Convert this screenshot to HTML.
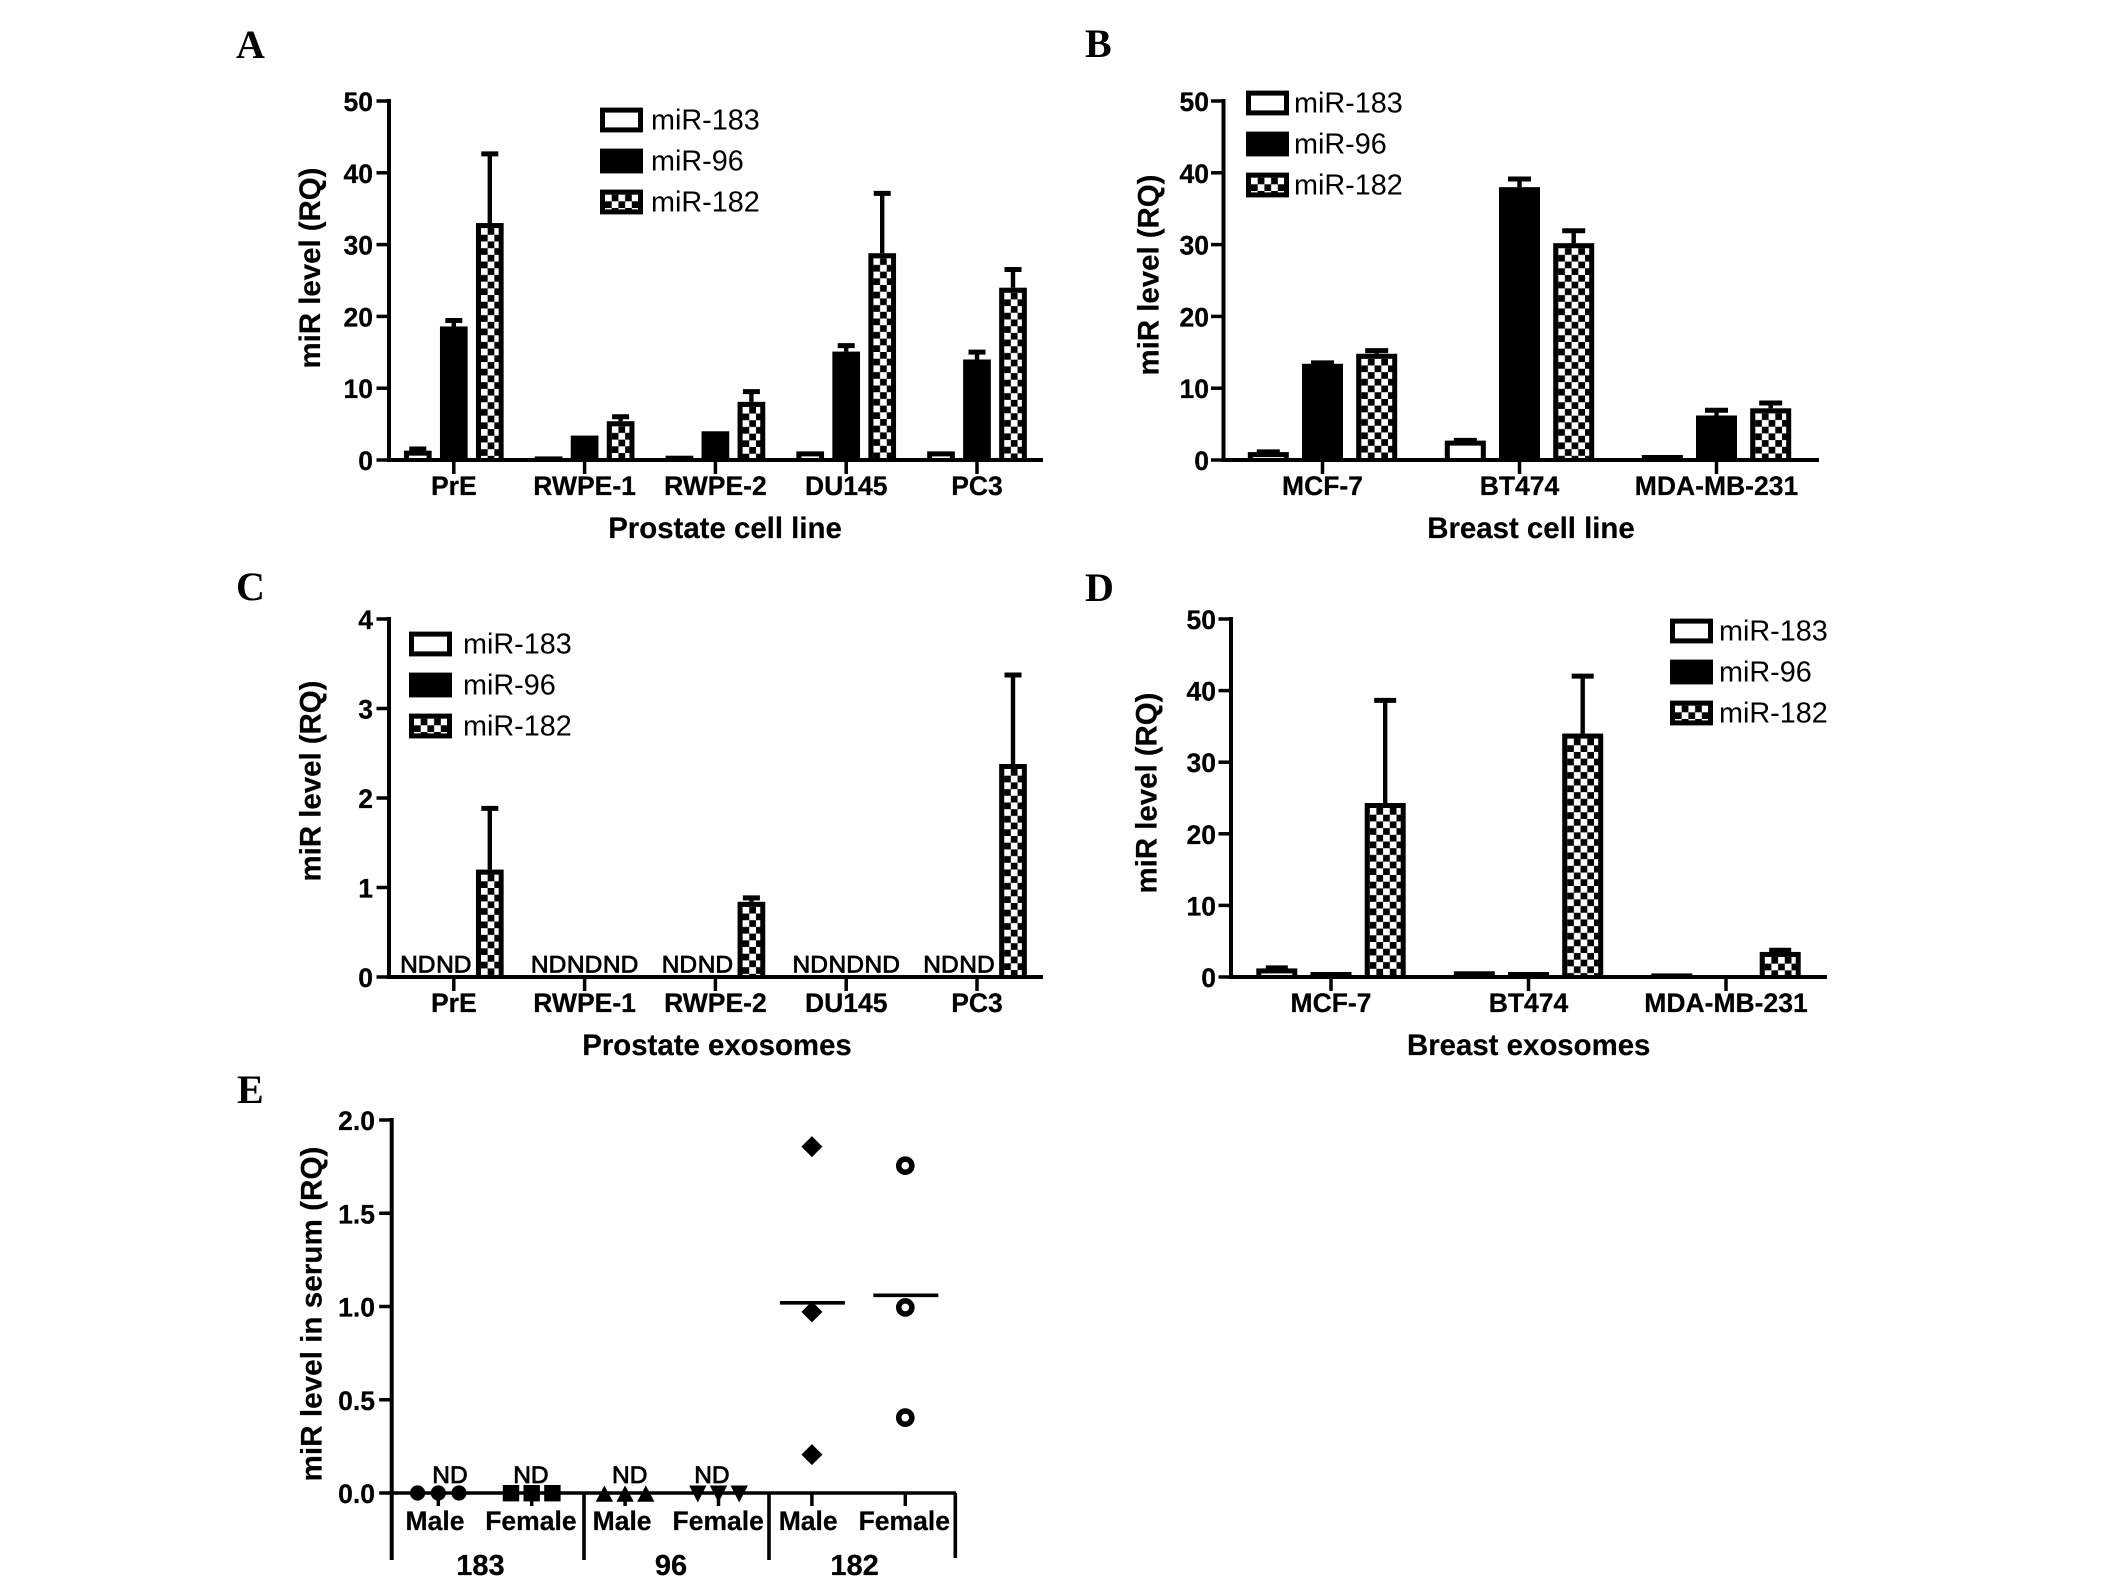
<!DOCTYPE html>
<html lang="en">
<head>
<meta charset="utf-8">
<title>miR levels in cell lines, exosomes and serum</title>
<style>
html,body{margin:0;padding:0;background:#fff;}
svg{display:block;}
text{font-family:"Liberation Sans",Arial,sans-serif;fill:#000;}
.panel-letter{font-family:"Liberation Serif","Times New Roman",serif;font-weight:bold;font-size:40px;}
.tick{font-weight:bold;font-size:26.5px;stroke:#000;stroke-width:.25px;}
.group{font-weight:bold;font-size:29px;stroke:#000;stroke-width:.25px;}
.title{font-weight:bold;font-size:29.4px;stroke:#000;stroke-width:.2px;}
.title-long{font-weight:bold;font-size:29.7px;stroke:#000;stroke-width:.2px;}
.legend{font-size:28.8px;}
.nd{font-size:24.5px;stroke:#000;stroke-width:.8px;}
</style>
</head>
<body>
<svg id="figure" xmlns="http://www.w3.org/2000/svg" width="2126" height="1586" viewBox="0 0 2126 1586">
  <defs>
    <pattern id="checks" patternUnits="userSpaceOnUse" width="13.4" height="13.4">
      <rect width="13.4" height="13.4" fill="#000"/>
      <rect x="0" y="0" width="6.7" height="6.7" fill="#fff"/>
      <rect x="6.7" y="6.7" width="6.7" height="6.7" fill="#fff"/>
    </pattern>
  </defs>
  <rect width="2126" height="1586" fill="#fff"/>
  <g id="panel-a">
    <text class="panel-letter" x="236" y="58">A</text>
  </g>
  <g id="panel-b">
    <text class="panel-letter" x="1085" y="57">B</text>
  </g>
  <g id="panel-c">
    <text class="panel-letter" x="236" y="600">C</text>
  </g>
  <g id="panel-d">
    <text class="panel-letter" x="1085" y="601">D</text>
  </g>
  <g id="panel-e">
    <text class="panel-letter" x="237" y="1103">E</text>
  </g>
</svg>
<script>
// ---------- Panel A: prostate cell lines ----------
const aCategories = ['PrE', 'RWPE-1', 'RWPE-2', 'DU145', 'PC3'];
const aMir183 = [1.3, 0.5, 0.6, 1.2, 1.2];
const aMir183Err = [0.3, 0, 0, 0, 0];
const aMir96 = [18.6, 3.4, 4.0, 15.1, 14.0];
const aMir96Err = [0.9, 0, 0, 0.9, 1.1];
const aMir182 = [33.0, 5.4, 8.1, 28.8, 24.0];
const aMir182Err = [9.7, 0.7, 1.5, 8.4, 2.6];
const aTicks = [0, 10, 20, 30, 40, 50];

// ---------- Panel B: breast cell lines ----------
const bCategories = ['MCF-7', 'BT474', 'MDA-MB-231'];
const bMir183 = [1.1, 2.7, 0.7];
const bMir183Err = [0.1, 0.1, 0];
const bMir96 = [13.4, 38.0, 6.2];
const bMir96Err = [0.2, 1.2, 0.8];
const bMir182 = [14.8, 30.2, 7.2];
const bMir182Err = [0.5, 1.8, 0.8];
const bTicks = [0, 10, 20, 30, 40, 50];

// ---------- Panel C: prostate exosomes (null = not detected) ----------
const cCategories = ['PrE', 'RWPE-1', 'RWPE-2', 'DU145', 'PC3'];
const cMir183 = [null, null, null, null, null];
const cMir183Err = [0, 0, 0, 0, 0];
const cMir96 = [null, null, null, null, null];
const cMir96Err = [0, 0, 0, 0, 0];
const cMir182 = [1.2, null, 0.84, null, 2.38];
const cMir182Err = [0.69, 0, 0.05, 0, 1.0];
const cTicks = [0, 1, 2, 3, 4];

// ---------- Panel D: breast exosomes ----------
const dCategories = ['MCF-7', 'BT474', 'MDA-MB-231'];
const dMir183 = [1.2, 0.8, 0.5];
const dMir183Err = [0.15, 0, 0];
const dMir96 = [0.7, 0.7, 0];
const dMir96Err = [0, 0, 0];
const dMir182 = [24.3, 34.0, 3.5];
const dMir182Err = [14.4, 8.1, 0.3];
const dTicks = [0, 10, 20, 30, 40, 50];

// ---------- Panel E: serum scatter ----------
const eCategories = ['Male', 'Female', 'Male', 'Female', 'Male', 'Female'];
const eGroups = ['183', '96', '182'];
const eMale183 = [0, 0, 0];
const eFemale183 = [0, 0, 0];
const eMale96 = [0, 0, 0];
const eFemale96 = [0, 0, 0];
const eMale182 = [1.857, 0.971, 0.206];
const eFemale182 = [1.755, 0.995, 0.404];
const eMeans = [null, null, null, null, 1.02, 1.06];
const eNdFlags = ['ND', 'ND', 'ND', 'ND', '', ''];
const eTicks = [0, 0.5, 1, 1.5, 2];

const legendNames = ['miR-183', 'miR-96', 'miR-182'];
const NS = 'http://www.w3.org/2000/svg';

function add(parent, tag, attrs, text) {
  const el = document.createElementNS(NS, tag);
  for (const k in attrs) el.setAttribute(k, attrs[k]);
  if (text !== undefined) el.textContent = text;
  parent.appendChild(el);
  return el;
}
function named(el, name) {
  
  
  return el;
}
function line(parent, x1, y1, x2, y2, w, name) {
  const el = add(parent, 'line', {x1: x1, y1: y1, x2: x2, y2: y2, stroke: '#000', 'stroke-width': w});
  return named(el, name);
}
function label(parent, cls, x, y, anchor, str, name, rot) {
  const attrs = {class: cls, x: x, y: y, 'text-anchor': anchor};
  if (rot) attrs.transform = 'rotate(-90 ' + x + ' ' + y + ')';
  const el = add(parent, 'text', attrs, str);
  return named(el, name);
}
function fillFor(seriesIndex) {
  return ['#fff', '#000', 'url(#checks)'][seriesIndex];
}
// Black outer box with an inset fill; the pattern is anchored to the inset's own corner.
function boxFill(parent, x, y, w, h, inset, bottomInset, series, name) {
  named(add(parent, 'rect', {x: x, y: y, width: w, height: h, fill: '#000'}), name + '-outline');
  const ih = h - inset - bottomInset;
  if (series !== 1 && ih > 0.5) {
    named(add(parent, 'rect', {
      x: 0, y: 0, width: w - 2 * inset, height: ih,
      fill: fillFor(series),
      transform: 'translate(' + (x + inset) + ' ' + (y + inset) + ')'
    }), name + '-fill');
  }
}

function drawLegend(g, cfg) {
  legendNames.forEach(function (n, i) {
    const cy = cfg.y + i * cfg.dy;
    const entry = named(add(g, 'g', {}), 'legend-entry-' + n.toLowerCase());
    boxFill(entry, cfg.x, cy - 12.4, 43, 24.8, 5, 5, i, 'legend-swatch');
    label(entry, 'legend', cfg.textX, cy + 9.5, 'start', n, 'legend-label');
  });
}

function drawYAxis(g, cfg, ticks, fmt) {
  const yScale = cfg.y;
  ticks.forEach(function (t) {
    const y = yScale(t);
    line(g, cfg.axisX - 12.5, y, cfg.axisX, y, 3.5, 'y-tick');
    label(g, 'tick', cfg.tickRight, y + 10, 'end', fmt ? fmt(t) : String(t), 'y-tick-label');
  });
  line(g, cfg.axisX, yScale(ticks[ticks.length - 1]) - 2, cfg.axisX, cfg.axisBottom, 4, 'y-axis');
}

function drawBarPanel(id, cfg, categories, seriesList, errList, ticks) {
  const g = document.getElementById(id);
  const top = ticks[ticks.length - 1];
  const y = function (v) { return cfg.y0 + (cfg.yTop - cfg.y0) * v / top; };
  const xc = function (i) { return cfg.x0 + cfg.step * i; };

  categories.forEach(function (c, i) {
    seriesList.forEach(function (vals, s) {
      const v = vals[i];
      const cx = xc(i) + (s - 1) * cfg.barStep;
      if (v === null) {
        label(g, 'nd', cx, cfg.y0 - 4.5, 'middle', 'ND', 'not-detected-label');
        return;
      }
      const bar = named(add(g, 'g', {}), 'bar-' + c.toLowerCase() + '-' + legendNames[s].toLowerCase());
      const err = errList[s][i];
      if (err > 0) {
        const ye = y(v + err) + 0.5;
        line(bar, cx, ye, cx, y(v), 4.4, 'error-bar');
        line(bar, cx - cfg.cap / 2, ye, cx + cfg.cap / 2, ye, 5, 'error-cap');
      }
      const yv = y(v);
      const h = cfg.y0 - yv;
      if (h > 0.5) {
        boxFill(bar, cx - cfg.barW / 2, yv, cfg.barW, h, 5, 2, s, 'bar');
      }
    });
    line(g, xc(i), cfg.y0, xc(i), cfg.y0 + 14, 3.5, 'x-tick');
    label(g, 'tick', xc(i), cfg.catY, 'middle', c, 'x-tick-label');
  });
  const yCfg = {y: y, axisX: cfg.axisX, axisBottom: cfg.y0 + 2, tickRight: cfg.tickRight};
  drawYAxis(g, yCfg, ticks);
  line(g, cfg.axisX, cfg.y0, cfg.axisEnd, cfg.y0, 4, 'x-axis');
  label(g, 'title', cfg.titleX, cfg.titleY, 'middle', cfg.title, 'x-axis-title');
  label(g, 'title', cfg.yTitleX, cfg.yTitleY, 'middle', 'miR level (RQ)', 'y-axis-title', true);
  drawLegend(g, cfg.legend);
}

drawBarPanel('panel-a', {
  x0: 453.8, step: 130.8, barStep: 36, barW: 27.7, cap: 17, y0: 460, yTop: 101,
  axisX: 389, axisEnd: 1043, tickRight: 373, catY: 495,
  title: 'Prostate cell line', titleX: 725, titleY: 538, yTitleX: 320, yTitleY: 268,
  legend: {x: 600, y: 120, dy: 41, textX: 651}
}, aCategories, [aMir183, aMir96, aMir182], [aMir183Err, aMir96Err, aMir182Err], aTicks);

drawBarPanel('panel-b', {
  x0: 1322.5, step: 197, barStep: 54.2, barW: 41, cap: 23, y0: 460, yTop: 101,
  axisX: 1223.5, axisEnd: 1819, tickRight: 1209, catY: 495,
  title: 'Breast cell line', titleX: 1531, titleY: 538, yTitleX: 1158.5, yTitleY: 275,
  legend: {x: 1246, y: 103, dy: 41, textX: 1294}
}, bCategories, [bMir183, bMir96, bMir182], [bMir183Err, bMir96Err, bMir182Err], bTicks);

drawBarPanel('panel-c', {
  x0: 453.8, step: 130.8, barStep: 36, barW: 27.7, cap: 17, y0: 977, yTop: 619,
  axisX: 389, axisEnd: 1043, tickRight: 373, catY: 1012,
  title: 'Prostate exosomes', titleX: 717, titleY: 1055, yTitleX: 320.5, yTitleY: 781,
  legend: {x: 409, y: 644, dy: 41, textX: 463}
}, cCategories, [cMir183, cMir96, cMir182], [cMir183Err, cMir96Err, cMir182Err], cTicks);

drawBarPanel('panel-d', {
  x0: 1331, step: 197.5, barStep: 54.2, barW: 41, cap: 22, y0: 977, yTop: 619,
  axisX: 1231, axisEnd: 1827, tickRight: 1216, catY: 1012,
  title: 'Breast exosomes', titleX: 1528.7, titleY: 1055, yTitleX: 1156.5, yTitleY: 793,
  legend: {x: 1670, y: 631, dy: 41, textX: 1719}
}, dCategories, [dMir183, dMir96, dMir182], [dMir183Err, dMir96Err, dMir182Err], dTicks);

function drawMarker(g, kind, x, y) {
  let el;
  if (kind === 'circle') {
    el = add(g, 'circle', {cx: x, cy: y, r: 7.6, fill: '#000'});
  } else if (kind === 'square') {
    el = add(g, 'rect', {x: x - 8.2, y: y - 8, width: 16.4, height: 16.4, fill: '#000'});
  } else if (kind === 'up') {
    el = add(g, 'polygon', {points: (x - 8.7) + ',' + (y + 8.7) + ' ' + (x + 8.7) + ',' + (y + 8.7) + ' ' + x + ',' + (y - 7.5), fill: '#000'});
  } else if (kind === 'down') {
    el = add(g, 'polygon', {points: (x - 8.7) + ',' + (y - 7.5) + ' ' + (x + 8.7) + ',' + (y - 7.5) + ' ' + x + ',' + (y + 9.5), fill: '#000'});
  } else if (kind === 'diamond') {
    el = add(g, 'polygon', {points: (x - 10.5) + ',' + y + ' ' + x + ',' + (y - 10.5) + ' ' + (x + 10.5) + ',' + y + ' ' + x + ',' + (y + 10.5), fill: '#000'});
  } else {
    el = add(g, 'circle', {cx: x, cy: y, r: 6.6, fill: '#fff', stroke: '#000', 'stroke-width': 5.5});
  }
  return named(el, 'data-point-' + kind);
}

(function drawSerumPanel() {
  const g = document.getElementById('panel-e');
  const y0 = 1493, yTop = 1120;
  const top = eTicks[eTicks.length - 1];
  const y = function (v) { return y0 + (yTop - y0) * v / top; };
  const x = function (i) { return 438.3 + 93.4 * i; };
  const groupsData = [eMale183, eFemale183, eMale96, eFemale96, eMale182, eFemale182];
  const kinds = ['circle', 'square', 'up', 'down', 'diamond', 'ring'];
  const labelOffset = [-3.3, -0.8, -3, -0.3, -3.7, -1];
  const ndOffset = [11.7, -0.8, 4.6, -6.6, 0, 0];

  drawYAxis(g, {y: y, axisX: 391.7, axisBottom: 1560, tickRight: 375}, eTicks, function (t) { return t.toFixed(1); });
  line(g, 391.7, y0, 956, y0, 3.6, 'x-axis');
  [584, 769, 955.3].forEach(function (sx, i) {
    line(g, sx, y0, sx, i === 2 ? 1558 : 1560, 3.6, 'group-separator');
  });
  eCategories.forEach(function (c, i) {
    line(g, x(i), y0, x(i), 1506, 3.5, 'x-tick');
    label(g, 'tick', x(i) + labelOffset[i], 1530, 'middle', c, 'x-tick-label');
    if (eNdFlags[i]) label(g, 'nd', x(i) + ndOffset[i], 1483, 'middle', eNdFlags[i], 'not-detected-label');
    const vals = groupsData[i];
    vals.forEach(function (v, j) {
      const dupes = vals.filter(function (o) { return o === v; }).length;
      const off = dupes > 1 ? (j - (dupes - 1) / 2) * 20.7 : 0;
      drawMarker(g, kinds[i], x(i) + off, y(v));
    });
    if (eMeans[i] !== null) {
      line(g, x(i) - 32, y(eMeans[i]), x(i) + 33, y(eMeans[i]), 3.6, 'mean-line');
    }
  });
  [480.5, 671, 854.6].forEach(function (gx, i) {
    label(g, 'group', gx, 1575, 'middle', eGroups[i], 'group-label');
  });
  label(g, 'title-long', 321.7, 1314, 'middle', 'miR level in serum (RQ)', 'y-axis-title', true);
})();
</script>
</body>
</html>
